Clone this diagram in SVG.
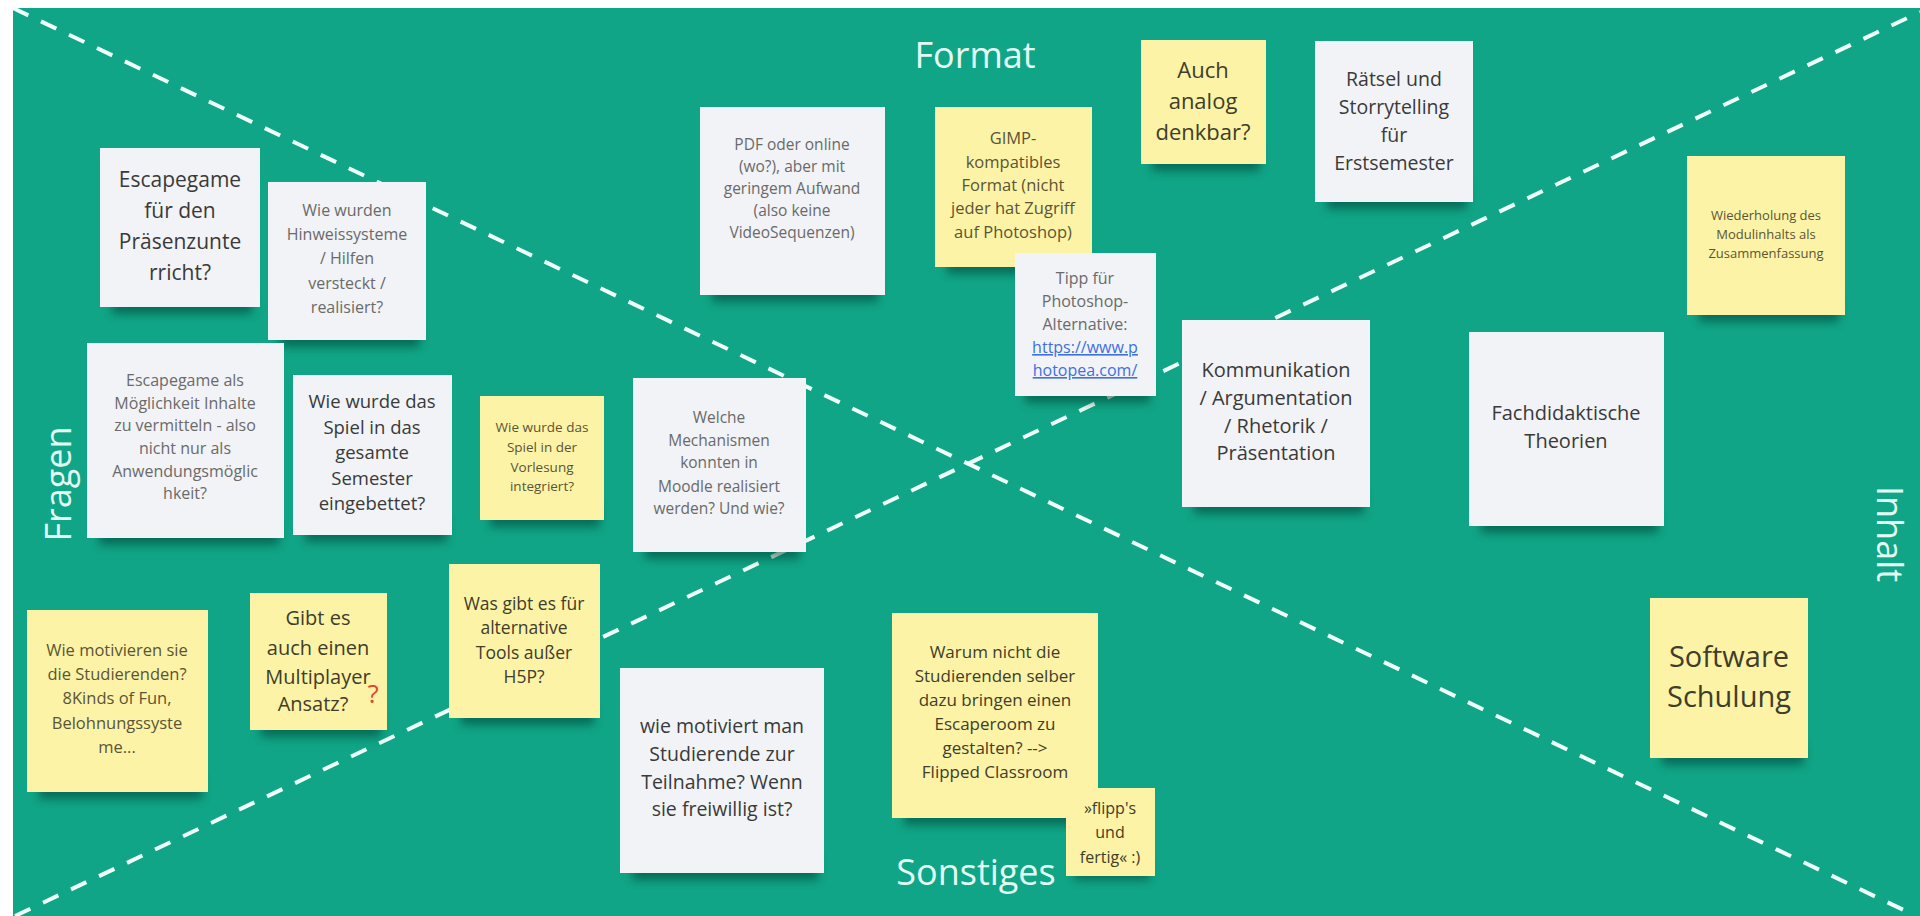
<svg xmlns="http://www.w3.org/2000/svg" width="1920" height="916" viewBox="0 0 1920 916">
<defs>
<filter id="blur" x="-20%" y="-100%" width="140%" height="300%"><feGaussianBlur stdDeviation="5"/></filter>
</defs>
<style>
.bg{fill:#10a586}
.div{stroke:#effff9;stroke-width:4;stroke-dasharray:17 14;fill:none}
.lbl{font-family:"Open Sans","Noto Sans","DejaVu Sans",sans-serif;fill:#e4fbf3;font-size:36px;text-anchor:middle}
.w{fill:#f1f3f6}
.y{fill:#fcf3a6}
.shd{fill:#053d30;opacity:0.55;filter:url(#blur)}
text.t{font-family:"Open Sans","Noto Sans","DejaVu Sans",sans-serif;text-anchor:middle}
.dk{fill:#3a3a3a}
.gr{fill:#6a6a6a}
.ol{fill:#5a5536}
.od{fill:#403d2a}
.lnk{fill:#3f6fe0;text-decoration:underline}
</style>
<rect x="0" y="0" width="1920" height="916" fill="#ffffff"/>
<rect class="bg" x="13" y="8" width="1907" height="908"/>
<g id="dividers">
<line class="div" x1="13" y1="8" x2="1912" y2="914"/>
<line class="div" x1="15" y1="916" x2="1920" y2="12"/>
</g>
<g id="labels">
<text class="lbl" x="975" y="68">Format</text>
<text class="lbl" x="976" y="885">Sonstiges</text>
<text class="lbl" transform="translate(71,484) rotate(-90)">Fragen</text>
<text class="lbl" transform="translate(1877,534) rotate(90)">Inhalt</text>
</g>
<g id="n1">
<rect class="shd" x="112" y="292" width="140" height="22"/>
<rect class="w" x="100" y="148" width="160" height="159"/>
<text class="t dk" font-size="21"><tspan x="180" y="187">Escapegame</tspan><tspan x="180" y="218">für den</tspan><tspan x="180" y="249">Präsenzunte</tspan><tspan x="180" y="280">rricht?</tspan></text>
</g>
<g id="n2">
<rect class="shd" x="280" y="325" width="140" height="22"/>
<rect class="w" x="268" y="182" width="158" height="158"/>
<text class="t gr" font-size="16"><tspan x="347" y="216">Wie wurden</tspan><tspan x="347" y="240">Hinweissysteme</tspan><tspan x="347" y="264">/ Hilfen</tspan><tspan x="347" y="289">versteckt /</tspan><tspan x="347" y="313">realisiert?</tspan></text>
</g>
<g id="n3">
<rect class="shd" x="712" y="280" width="166" height="22"/>
<rect class="w" x="700" y="107" width="185" height="188"/>
<text class="t gr" font-size="15.5"><tspan x="792" y="150">PDF oder online</tspan><tspan x="792" y="172">(wo?), aber mit</tspan><tspan x="792" y="194">geringem Aufwand</tspan><tspan x="792" y="216">(also keine</tspan><tspan x="792" y="238">VideoSequenzen)</tspan></text>
</g>
<g id="n4">
<rect class="shd" x="947" y="252" width="140" height="22"/>
<rect class="y" x="935" y="107" width="157" height="160"/>
<text class="t ol" font-size="16.5"><tspan x="1013" y="144">GIMP-</tspan><tspan x="1013" y="168">kompatibles</tspan><tspan x="1013" y="191">Format (nicht</tspan><tspan x="1013" y="214">jeder hat Zugriff</tspan><tspan x="1013" y="238">auf Photoshop)</tspan></text>
</g>
<g id="n5">
<rect class="shd" x="1025" y="381" width="125" height="22"/>
<rect class="w" x="1015" y="253" width="141" height="143"/>
<text class="t gr" font-size="16"><tspan x="1085" y="284">Tipp für</tspan><tspan x="1085" y="307">Photoshop-</tspan><tspan x="1085" y="330">Alternative:</tspan><tspan x="1085" y="353" class="lnk">https://www.p</tspan><tspan x="1085" y="376" class="lnk">hotopea.com/</tspan></text>
</g>
<g id="n6">
<rect class="shd" x="1152" y="149" width="108" height="22"/>
<rect class="y" x="1141" y="40" width="125" height="124"/>
<text class="t od" font-size="22"><tspan x="1203" y="78">Auch</tspan><tspan x="1203" y="109">analog</tspan><tspan x="1203" y="140">denkbar?</tspan></text>
</g>
<g id="n7">
<rect class="shd" x="1327" y="187" width="140" height="22"/>
<rect class="w" x="1315" y="41" width="158" height="161"/>
<text class="t dk" font-size="19.5"><tspan x="1394" y="86">Rätsel und</tspan><tspan x="1394" y="114">Storrytelling</tspan><tspan x="1394" y="142">für</tspan><tspan x="1394" y="170">Erstsemester</tspan></text>
</g>
<g id="n8">
<rect class="shd" x="1699" y="300" width="140" height="22"/>
<rect class="y" x="1687" y="156" width="158" height="159"/>
<text class="t ol" font-size="13"><tspan x="1766" y="220">Wiederholung des</tspan><tspan x="1766" y="239">Modulinhalts als</tspan><tspan x="1766" y="258">Zusammenfassung</tspan></text>
</g>
<g id="n9">
<rect class="shd" x="1194" y="492" width="170" height="22"/>
<rect class="w" x="1182" y="320" width="188" height="187"/>
<text class="t dk" font-size="20"><tspan x="1276" y="377">Kommunikation</tspan><tspan x="1276" y="405">/ Argumentation</tspan><tspan x="1276" y="433">/ Rhetorik /</tspan><tspan x="1276" y="460">Präsentation</tspan></text>
</g>
<g id="n10">
<rect class="shd" x="1481" y="511" width="177" height="22"/>
<rect class="w" x="1469" y="332" width="195" height="194"/>
<text class="t dk" font-size="20"><tspan x="1566" y="420">Fachdidaktische</tspan><tspan x="1566" y="448">Theorien</tspan></text>
</g>
<g id="n11">
<rect class="shd" x="1662" y="743" width="142" height="22"/>
<rect class="y" x="1650" y="598" width="158" height="160"/>
<text class="t od" font-size="29"><tspan x="1729" y="667">Software</tspan><tspan x="1729" y="707">Schulung</tspan></text>
</g>
<g id="n12">
<rect class="shd" x="99" y="523" width="180" height="22"/>
<rect class="w" x="87" y="343" width="197" height="195"/>
<text class="t gr" font-size="16"><tspan x="185" y="386">Escapegame als</tspan><tspan x="185" y="409">Möglichkeit Inhalte</tspan><tspan x="185" y="431">zu vermitteln - also</tspan><tspan x="185" y="454">nicht nur als</tspan><tspan x="185" y="477">Anwendungsmöglic</tspan><tspan x="185" y="499">hkeit?</tspan></text>
</g>
<g id="n13">
<rect class="shd" x="305" y="520" width="142" height="22"/>
<rect class="w" x="293" y="375" width="159" height="160"/>
<text class="t dk" font-size="18.5"><tspan x="372" y="408">Wie wurde das</tspan><tspan x="372" y="434">Spiel in das</tspan><tspan x="372" y="459">gesamte</tspan><tspan x="372" y="485">Semester</tspan><tspan x="372" y="510">eingebettet?</tspan></text>
</g>
<g id="n14">
<rect class="shd" x="490" y="505" width="110" height="22"/>
<rect class="y" x="480" y="396" width="124" height="124"/>
<text class="t ol" font-size="13.5"><tspan x="542" y="432">Wie wurde das</tspan><tspan x="542" y="452">Spiel in der</tspan><tspan x="542" y="472">Vorlesung</tspan><tspan x="542" y="491">integriert?</tspan></text>
</g>
<g id="n15">
<rect class="shd" x="645" y="537" width="155" height="22"/>
<rect class="w" x="633" y="378" width="173" height="174"/>
<text class="t gr" font-size="15.5"><tspan x="719" y="423">Welche</tspan><tspan x="719" y="446">Mechanismen</tspan><tspan x="719" y="468">konnten in</tspan><tspan x="719" y="492">Moodle realisiert</tspan><tspan x="719" y="514">werden? Und wie?</tspan></text>
</g>
<g id="n16">
<rect class="shd" x="39" y="777" width="163" height="22"/>
<rect class="y" x="27" y="610" width="181" height="182"/>
<text class="t ol" font-size="16.5"><tspan x="117" y="656">Wie motivieren sie</tspan><tspan x="117" y="680">die Studierenden?</tspan><tspan x="117" y="704">8Kinds of Fun,</tspan><tspan x="117" y="729">Belohnungssyste</tspan><tspan x="117" y="753">me...</tspan></text>
</g>
<g id="n17">
<rect class="shd" x="261" y="715" width="120" height="22"/>
<rect class="y" x="250" y="593" width="137" height="137"/>
<text class="t od" font-size="20"><tspan x="318" y="625">Gibt es</tspan><tspan x="318" y="655">auch einen</tspan><tspan x="318" y="684">Multiplayer</tspan><tspan x="313" y="711">Ansatz?</tspan></text>
<text class="t" x="373" y="703" font-size="26" fill="#e2462a">?</text>
</g>
<g id="n18">
<rect class="shd" x="461" y="703" width="133" height="22"/>
<rect class="y" x="449" y="564" width="151" height="154"/>
<text class="t od" font-size="17.5"><tspan x="524" y="610">Was gibt es für</tspan><tspan x="524" y="634">alternative</tspan><tspan x="524" y="659">Tools außer</tspan><tspan x="524" y="683">H5P?</tspan></text>
</g>
<g id="n19">
<rect class="shd" x="632" y="858" width="186" height="22"/>
<rect class="w" x="620" y="668" width="204" height="205"/>
<text class="t dk" font-size="19.5"><tspan x="722" y="733">wie motiviert man</tspan><tspan x="722" y="761">Studierende zur</tspan><tspan x="722" y="789">Teilnahme? Wenn</tspan><tspan x="722" y="816">sie freiwillig ist?</tspan></text>
</g>
<g id="n20">
<rect class="shd" x="904" y="803" width="188" height="22"/>
<rect class="y" x="892" y="613" width="206" height="205"/>
<text class="t od" font-size="17"><tspan x="995" y="658">Warum nicht die</tspan><tspan x="995" y="682">Studierenden selber</tspan><tspan x="995" y="706">dazu bringen einen</tspan><tspan x="995" y="730">Escaperoom zu</tspan><tspan x="995" y="754">gestalten? --&gt;</tspan><tspan x="995" y="778">Flipped Classroom</tspan></text>
</g>
<g id="n21">
<rect class="shd" x="1074" y="862" width="76" height="18"/>
<rect class="y" x="1066" y="788" width="89" height="88"/>
<text class="t od" font-size="16"><tspan x="1110" y="814">»flipp's</tspan><tspan x="1110" y="838">und</tspan><tspan x="1110" y="863">fertig« :)</tspan></text>
</g>
</svg>
